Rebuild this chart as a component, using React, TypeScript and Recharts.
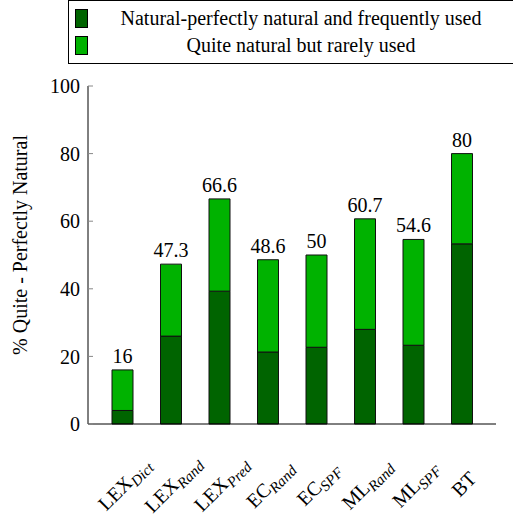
import { BarChart, Bar, XAxis, YAxis, LabelList } from 'recharts';

const bases = ['LEX', 'LEX', 'LEX', 'EC', 'EC', 'ML', 'ML', 'BT'];
const subs = ['Dict', 'Rand', 'Pred', 'Rand', 'SPF', 'Rand', 'SPF', ''];
const natural = [4, 26, 39.3, 21.3, 22.7, 28, 23.3, 53.3];
const rarely = [12, 21.3, 27.3, 27.3, 27.3, 32.7, 31.3, 26.7];
const totals = [16, 47.3, 66.6, 48.6, 50, 60.7, 54.6, 80];
const yTicks = [0, 20, 40, 60, 80, 100];
const seriesNames = ['Natural-perfectly natural and frequently used', 'Quite natural but rarely used'];

const DARK = '#006400';
const LIGHT = '#00b200';

const data = bases.map((b, i) => ({
  name: b + subs[i],
  natural: natural[i],
  rarely: rarely[i],
  total: totals[i],
}));

const XTick = (props: any) => {
  const { x, y, index } = props;
  const cx = x + 2;
  const cy = y + 60;
  return (
    <text
      x={cx}
      y={cy + 7}
      transform={`rotate(-45 ${cx} ${cy})`}
      textAnchor="middle"
      fontFamily="Liberation Serif"
      fontSize={20}
      fill="#000"
    >
      {bases[index]}
      <tspan fontStyle="italic" fontSize={15} dy={4}>
        {subs[index]}
      </tspan>
    </text>
  );
};

const YLabel = () => (
  <text x={27} y={245} transform="rotate(-90 27 245)" textAnchor="middle" fontFamily="Liberation Serif" fontSize={20} fill="#000">
    % Quite - Perfectly Natural
  </text>
);

export default function App() {
  return (
    <div style={{ position: 'absolute', left: 0, top: 0, width: 513, height: 517 }}>
      <BarChart width={513} height={517} data={data} margin={{ top: 86, right: 17, bottom: 0, left: 0 }} barSize={21}>
        <XAxis
          dataKey="name"
          interval={0}
          height={93}
          padding={{ left: 10, right: 10 }}
          tickLine={false}
          tickSize={0}
          tickMargin={0}
          stroke="#000"
          tick={XTick}
        />
        <XAxis xAxisId="top" dataKey="name" orientation="top" height={0} tick={false} tickLine={false} stroke="#000" />
        <YAxis
          domain={[0, 100]}
          ticks={yTicks}
          width={88}
          tickSize={-5}
          tickMargin={13}
          stroke="#000"
          tickLine={{ stroke: '#888' }}
          tick={{ fill: '#000', fontFamily: 'Liberation Serif', fontSize: 20 }}
          label={{ content: YLabel }}
        />
        <YAxis
          yAxisId="right"
          orientation="right"
          domain={[0, 100]}
          ticks={yTicks}
          width={0}
          tick={false}
          tickSize={-5}
          stroke="#000"
          tickLine={{ stroke: '#888' }}
        />
        <Bar dataKey="natural" stackId="a" fill={DARK} stroke="#111" strokeWidth={1} isAnimationActive={false} />
        <Bar dataKey="rarely" stackId="a" fill={LIGHT} stroke="#111" strokeWidth={1} isAnimationActive={false}>
          <LabelList dataKey="total" position="top" offset={7} fill="#000" fontFamily="Liberation Serif" fontSize={20} />
        </Bar>
      </BarChart>
      <div
        style={{
          position: 'absolute',
          left: 68,
          top: 0,
          width: 460,
          height: 64,
          border: '1px solid #000',
          boxSizing: 'border-box',
          fontFamily: 'Liberation Serif',
          fontSize: 20,
          color: '#000',
          background: '#fff',
        }}
      >
        {seriesNames.map((s, i) => (
          <div key={s} style={{ display: 'flex', alignItems: 'center', height: 25, marginTop: i === 0 ? 5 : 2 }}>
            <div
              style={{
                width: 11,
                height: 17,
                marginLeft: 6,
                marginRight: 6,
                background: i === 0 ? DARK : LIGHT,
                border: '1px solid #000',
              }}
            />
            <span style={{ width: 414, textAlign: 'center', whiteSpace: 'nowrap' }}>{s}</span>
          </div>
        ))}
      </div>
    </div>
  );
}
